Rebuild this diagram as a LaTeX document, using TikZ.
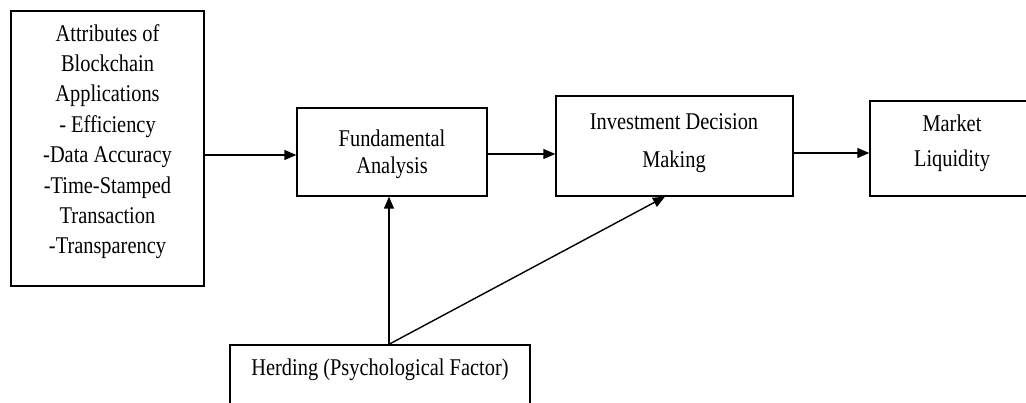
\documentclass[tikz,border=0pt]{standalone}
\usepackage{fontspec}
\setmainfont{Liberation Serif}
\usetikzlibrary{arrows.meta}
\newcommand{\narrowtext}[2]{\scalebox{0.85}[1]{\fontsize{24pt}{#1}\selectfont\begin{tabular}{@{}c@{}}#2\end{tabular}}}
\tikzset{
  box/.style={draw=black, line width=1.4pt, rectangle, inner sep=0pt},
  txt/.style={inner sep=0pt},
  arr/.style={line width=1.4pt, -{Triangle[length=12pt,width=10pt]}},
}
\begin{document}
\begin{tikzpicture}[x=1pt,y=-1pt]
\useasboundingbox (0,0) rectangle (1026,403);
\clip (0,0) rectangle (1026,403);
\fill[white] (0,0) rectangle (1026,403);
% boxes
\node[box, minimum width=193pt, minimum height=275pt] (attr) at (107.5,148.5) {};
\node[box, minimum width=190pt, minimum height=88pt] (fa) at (392,152) {};
\node[box, minimum width=237pt, minimum height=100pt] (idm) at (674.5,146) {};
\node[box, minimum width=164pt, minimum height=95pt] (ml) at (952,148.5) {};
\node[box, minimum width=300pt, minimum height=80pt] (herd) at (380,385) {};
% texts
\renewcommand{\arraystretch}{1}
\node[txt] (attrt) at (107.5,141.5) {\narrowtext{30.4pt}{Attributes of\\Blockchain\\Applications\\- Efficiency\\-Data Accuracy\\-Time-Stamped\\Transaction\\-Transparency}};
\node[txt] (fat) at (392,155) {\narrowtext{26.7pt}{Fundamental\\Analysis}};
\node[txt] (idt) at (674,141) {\narrowtext{38pt}{Investment Decision\\Making}};
\node[txt] (mlt) at (952,142.5) {\narrowtext{35pt}{Market\\Liquidity}};
\node[txt] (herdt) at (380,370) {\narrowtext{30pt}{Herding (Psychological Factor)}};
% connectors
\coordinate (hp) at ([xshift=9pt]herd.north);
\draw[arr] (attr.east |- 0,155) -- (fa.west |- 0,155);
\draw[arr] (fa.east |- 0,154) -- (idm.west |- 0,154);
\draw[arr] (idm.east |- 0,153) -- (ml.west |- 0,153);
\draw[arr] (hp) -- (hp |- fa.south);
\draw[arr] (hp) -- ([xshift=-9.5pt]idm.south);
\end{tikzpicture}
\end{document}
